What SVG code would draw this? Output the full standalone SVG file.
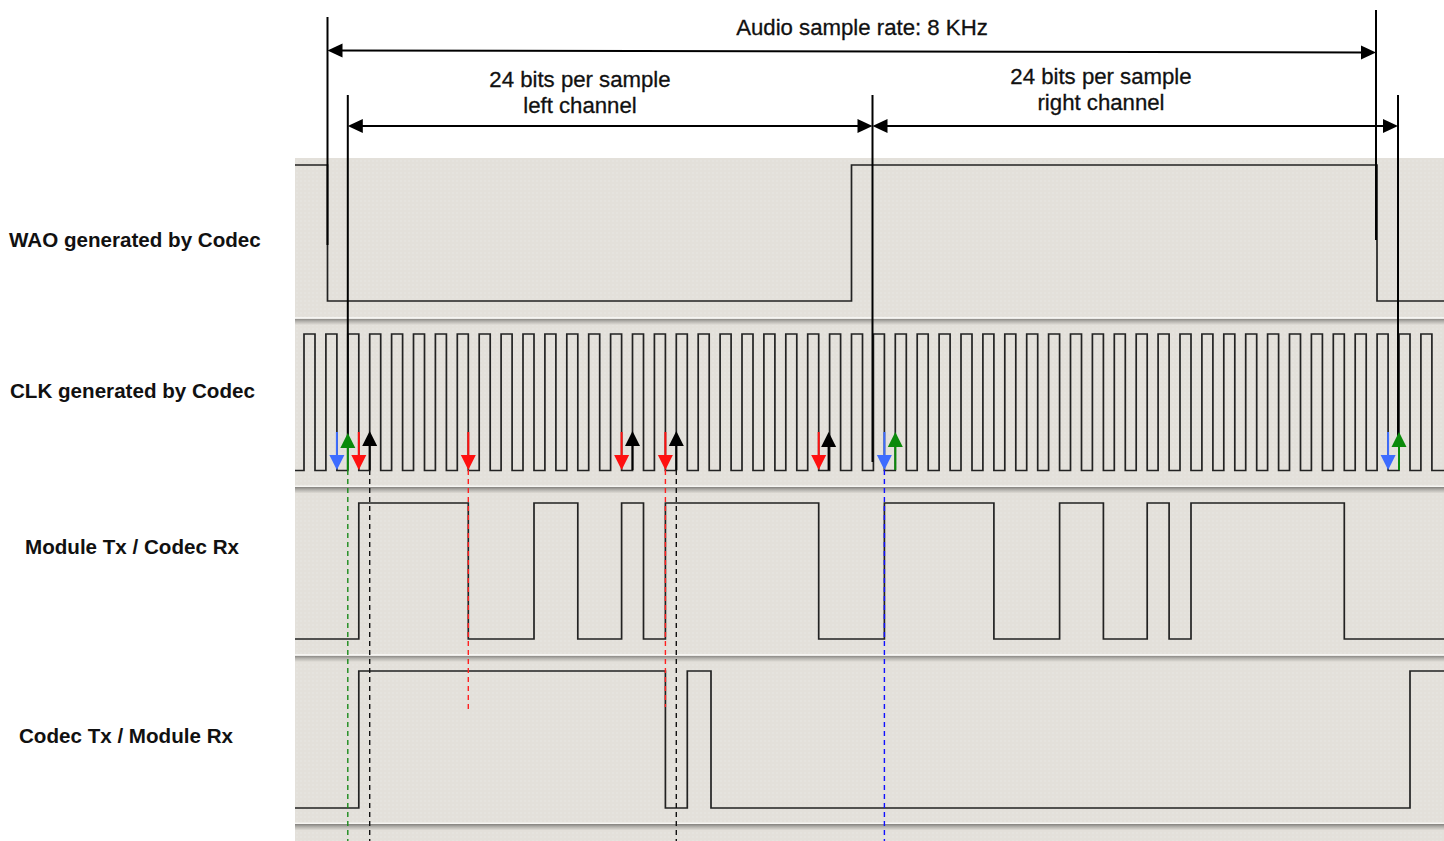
<svg xmlns="http://www.w3.org/2000/svg" width="1444" height="841" viewBox="0 0 1444 841">
<style>
.lbl{font-family:"Liberation Sans",Arial,sans-serif;font-size:20.6px;font-weight:bold;fill:#111}
.ann{font-family:"Liberation Sans",Arial,sans-serif;font-size:22.2px;fill:#111;stroke:#111;stroke-width:0.3;text-anchor:middle}
.wave{fill:none;stroke:#222;stroke-width:1.7}
.dim{stroke:#000;stroke-width:2;fill:none}
.dimA{stroke:#000;stroke-width:2;fill:none;marker-start:url(#hd);marker-end:url(#hd)}
.dash{stroke-width:1.4;stroke-dasharray:5 4;fill:none}
.ar{stroke-width:2;fill:none}
</style>
<defs>
<pattern id="dots" width="4" height="4" patternUnits="userSpaceOnUse">
<rect width="4" height="4" fill="#e3e0da"/>
<circle cx="1" cy="1" r="0.7" fill="#ebe9e5"/>
</pattern>
<linearGradient id="ridge" x1="0" y1="0" x2="0" y2="1">
<stop offset="0" stop-color="#f6f5f2"/>
<stop offset="0.18" stop-color="#f6f5f2"/>
<stop offset="0.25" stop-color="#8c8a86"/>
<stop offset="0.55" stop-color="#b5b3ae"/>
<stop offset="1" stop-color="#e3e0da"/>
</linearGradient>
<marker id="hd" markerUnits="userSpaceOnUse" markerWidth="15" markerHeight="14" refX="6" refY="7" orient="auto-start-reverse" overflow="visible"><path d="M0,0 L15,7 L0,14 z" fill="#000"/></marker>
<marker id="mBlue" markerUnits="userSpaceOnUse" markerWidth="15" markerHeight="15" refX="6" refY="7.5" orient="auto" overflow="visible"><path d="M0,0 L15,7.5 L0,15 z" fill="#3d6cff"/></marker>
<marker id="mRed" markerUnits="userSpaceOnUse" markerWidth="15" markerHeight="15" refX="6" refY="7.5" orient="auto" overflow="visible"><path d="M0,0 L15,7.5 L0,15 z" fill="#ff1010"/></marker>
<marker id="mGreen" markerUnits="userSpaceOnUse" markerWidth="15" markerHeight="15" refX="6" refY="7.5" orient="auto" overflow="visible"><path d="M0,0 L15,7.5 L0,15 z" fill="#0a8a0a"/></marker>
<marker id="mBlack" markerUnits="userSpaceOnUse" markerWidth="15" markerHeight="15" refX="6" refY="7.5" orient="auto" overflow="visible"><path d="M0,0 L15,7.5 L0,15 z" fill="#000"/></marker>
</defs>
<rect width="1444" height="841" fill="#fff"/>
<g id="background">
<rect x="295" y="158" width="1149" height="683" fill="url(#dots)"/>
<rect x="295" y="317" width="1149" height="8" fill="url(#ridge)"/>
<rect x="295" y="485.5" width="1149" height="8" fill="url(#ridge)"/>
<rect x="295" y="654" width="1149" height="8" fill="url(#ridge)"/>
<rect x="295" y="822.5" width="1149" height="8" fill="url(#ridge)"/>
</g>
<g id="wao">
<text class="lbl" x="9" y="247">WAO generated by Codec</text>
<path class="wave" d="M295,165 H327.5 V301 H851.5 V165 H1377 V301 H1444"/>
</g>
<g id="clk">
<text class="lbl" x="10" y="398">CLK generated by Codec</text>
<path class="wave" d="M295,470.5 H304 v-136.5h11v136.5h10.9v-136.5h11v136.5h10.9v-136.5h11v136.5h10.9v-136.5h11v136.5h10.9v-136.5h11v136.5h10.9v-136.5h11v136.5h10.9v-136.5h11v136.5h10.9v-136.5h11v136.5h10.9v-136.5h11v136.5h10.9v-136.5h11v136.5h10.9v-136.5h11v136.5h10.9v-136.5h11v136.5h10.9v-136.5h11v136.5h10.9v-136.5h11v136.5h10.9v-136.5h11v136.5h10.9v-136.5h11v136.5h10.9v-136.5h11v136.5h10.9v-136.5h11v136.5h10.9v-136.5h11v136.5h10.9v-136.5h11v136.5h10.9v-136.5h11v136.5h10.9v-136.5h11v136.5h10.9v-136.5h11v136.5h10.9v-136.5h11v136.5h10.9v-136.5h11v136.5h10.9v-136.5h11v136.5h10.9v-136.5h11v136.5h10.9v-136.5h11v136.5h10.9v-136.5h11v136.5h10.9v-136.5h11v136.5h10.9v-136.5h11v136.5h10.9v-136.5h11v136.5h10.9v-136.5h11v136.5h10.9v-136.5h11v136.5h10.9v-136.5h11v136.5h10.9v-136.5h11v136.5h10.9v-136.5h11v136.5h10.9v-136.5h11v136.5h10.9v-136.5h11v136.5h10.9v-136.5h11v136.5h10.9v-136.5h11v136.5h10.9v-136.5h11v136.5h10.9v-136.5h11v136.5h10.9v-136.5h11v136.5h10.9v-136.5h11v136.5h10.9v-136.5h11v136.5h10.9v-136.5h11v136.5h10.9v-136.5h11v136.5h10.9v-136.5h11v136.5h10.9v-136.5h11v136.5h10.9v-136.5h11v136.5h10.9v-136.5h11v136.5h10.9 H1444"/>
</g>
<g id="module-tx">
<text class="lbl" x="25" y="554">Module Tx / Codec Rx</text>
<path class="wave" d="M295,639 H358.8 V503 H468.3 V639 H534 V503 H577.8 V639 H621.6 V503 H643.5 V639 H665.4 V503 H818.7 V639 H884.4 V503 H993.9 V639 H1059.6 V503 H1103.4 V639 H1147.2 V503 H1169.1 V639 H1191 V503 H1344.3 V639 H1444"/>
</g>
<g id="codec-tx">
<text class="lbl" x="19" y="743">Codec Tx / Module Rx</text>
<path class="wave" d="M295,808 H358.8 V671 H665.4 V808 H687.3 V671 H711 V808 H1410 V671 H1444"/>
</g>
<g id="annotations">
<text class="ann" x="862" y="35">Audio sample rate: 8 KHz</text>
<text class="ann" x="580" y="87">24 bits per sample</text>
<text class="ann" x="580" y="113">left channel</text>
<text class="ann" x="1101" y="84">24 bits per sample</text>
<text class="ann" x="1101" y="110">right channel</text>
</g>
<g id="connectors">
<line class="dim" x1="327.5" y1="17" x2="327.5" y2="245"/>
<line class="dim" x1="1376" y1="10" x2="1376" y2="240"/>
<line class="dim" x1="347.8" y1="95" x2="347.8" y2="440"/>
<line class="dim" x1="872.5" y1="95" x2="872.5" y2="462"/>
<line class="dim" x1="1398" y1="95" x2="1398" y2="440"/>
<line class="dimA" x1="336.5" y1="50.5" x2="1367" y2="52.5"/>
<line class="dimA" x1="356.8" y1="126" x2="863.5" y2="126"/>
<line class="dimA" x1="881.5" y1="126" x2="1389" y2="126"/>
<line class="dash" stroke="#1a8a1a" x1="347.8" y1="470" x2="347.8" y2="841"/>
<line class="dash" stroke="#111" x1="369.7" y1="470" x2="369.7" y2="841"/>
<line class="dash" stroke="#ff2020" x1="468.3" y1="470" x2="468.3" y2="711"/>
<line class="dash" stroke="#ff2020" x1="665.4" y1="470" x2="665.4" y2="707"/>
<line class="dash" stroke="#111" x1="676.3" y1="470" x2="676.3" y2="841"/>
<line class="dash" stroke="#1010ff" x1="884.4" y1="470" x2="884.4" y2="841"/>
<line class="ar" stroke="#3d6cff" x1="336.9" y1="432" x2="336.9" y2="461" marker-end="url(#mBlue)"/>
<line class="ar" stroke="#0a8a0a" x1="347.8" y1="470" x2="347.8" y2="442" marker-end="url(#mGreen)"/>
<line class="ar" stroke="#ff1010" x1="358.8" y1="432" x2="358.8" y2="461" marker-end="url(#mRed)"/>
<line class="ar" stroke="#000" x1="369.7" y1="470" x2="369.7" y2="440" marker-end="url(#mBlack)"/>
<line class="ar" stroke="#ff1010" x1="468.3" y1="432" x2="468.3" y2="461" marker-end="url(#mRed)"/>
<line class="ar" stroke="#ff1010" x1="621.6" y1="432" x2="621.6" y2="461" marker-end="url(#mRed)"/>
<line class="ar" stroke="#000" x1="632.5" y1="470" x2="632.5" y2="440" marker-end="url(#mBlack)"/>
<line class="ar" stroke="#ff1010" x1="665.4" y1="432" x2="665.4" y2="461" marker-end="url(#mRed)"/>
<line class="ar" stroke="#000" x1="676.3" y1="470" x2="676.3" y2="440" marker-end="url(#mBlack)"/>
<line class="ar" stroke="#ff1010" x1="818.7" y1="432" x2="818.7" y2="461" marker-end="url(#mRed)"/>
<line class="ar" stroke="#000" x1="828.6" y1="470" x2="828.6" y2="441" marker-end="url(#mBlack)"/>
<line class="ar" stroke="#3d6cff" x1="884.4" y1="432" x2="884.4" y2="461" marker-end="url(#mBlue)"/>
<line class="ar" stroke="#0a8a0a" x1="895.3" y1="470" x2="895.3" y2="441" marker-end="url(#mGreen)"/>
<line class="ar" stroke="#3d6cff" x1="1388.1" y1="432" x2="1388.1" y2="461" marker-end="url(#mBlue)"/>
<line class="ar" stroke="#0a8a0a" x1="1399" y1="470" x2="1399" y2="441" marker-end="url(#mGreen)"/>
</g>
</svg>
